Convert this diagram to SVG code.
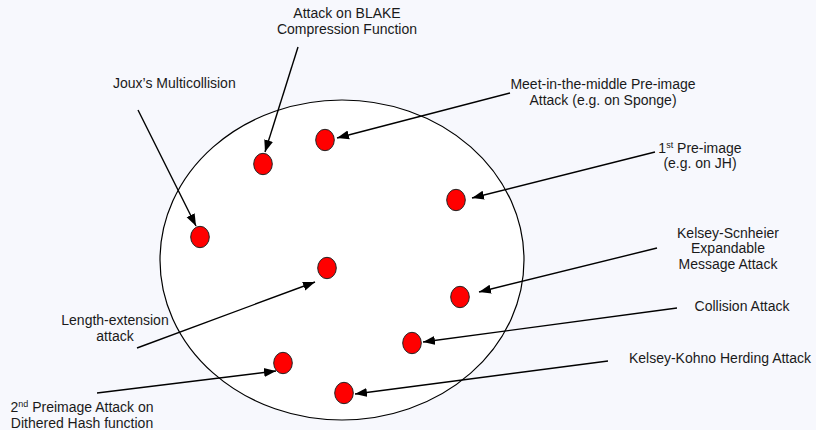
<svg xmlns="http://www.w3.org/2000/svg" width="816" height="430" viewBox="0 0 816 430">
<defs>
<marker id="ah" markerUnits="userSpaceOnUse" markerWidth="14" markerHeight="10" refX="12" refY="5" orient="auto">
<path d="M0,0.5 L12,5 L0,9.5 Z" fill="#000"/>
</marker>
<style>
text{font-family:"Liberation Sans",Arial,sans-serif;font-size:14px;fill:#1a1a1a}
.m{text-anchor:middle}
.dot{fill:#ff0000;stroke:#222;stroke-width:1}
.c line{stroke:#000;stroke-width:1.4;marker-end:url(#ah)}
.sup{font-size:9px}
</style>
</defs>
<rect width="816" height="430" fill="#f7f8fd"/>
<ellipse id="region" cx="342" cy="260" rx="182" ry="160" fill="#ffffff" stroke="#000" stroke-width="1.2"/>

<g id="n-blake"><ellipse class="dot" cx="263" cy="164" rx="9.3" ry="10.7"/><text class="m" x="347" y="18">Attack on BLAKE</text><text class="m" x="347" y="34">Compression Function</text></g>
<g id="n-joux"><ellipse class="dot" cx="200" cy="237" rx="9.3" ry="10.7"/><text x="113" y="88">Joux’s Multicollision</text></g>
<g id="n-meet"><ellipse class="dot" cx="325" cy="140" rx="9.3" ry="10.7"/><text class="m" x="603" y="89">Meet-in-the-middle Pre-image</text><text class="m" x="603" y="105">Attack (e.g. on Sponge)</text></g>
<g id="n-first"><ellipse class="dot" cx="456" cy="200" rx="9.3" ry="10.7"/><text class="m" x="700" y="153">1<tspan class="sup" dy="-5">st</tspan><tspan dy="5"> Pre-image</tspan></text><text class="m" x="700" y="168">(e.g. on JH)</text></g>
<g id="n-kelsey-s"><ellipse class="dot" cx="460" cy="297" rx="9.3" ry="10.7"/><text class="m" x="728" y="238">Kelsey-Scnheier</text><text class="m" x="728" y="253">Expandable</text><text class="m" x="728" y="269">Message Attack</text></g>
<g id="n-length"><ellipse class="dot" cx="327" cy="268" rx="9.3" ry="10.7"/><text class="m" x="115" y="325">Length-extension</text><text class="m" x="115" y="341">attack</text></g>
<g id="n-collision"><ellipse class="dot" cx="412" cy="343" rx="9.3" ry="10.7"/><text class="m" x="742" y="311">Collision Attack</text></g>
<g id="n-second"><ellipse class="dot" cx="283" cy="363" rx="9.3" ry="10.7"/><text class="m" x="82" y="412">2<tspan class="sup" dy="-5">nd</tspan><tspan dy="5"> Preimage Attack on</tspan></text><text class="m" x="82" y="428">Dithered Hash function</text></g>
<g id="n-herding"><ellipse class="dot" cx="344" cy="393" rx="9.3" ry="10.7"/><text class="m" x="720" y="363">Kelsey-Kohno Herding Attack</text></g>

<g id="connectors" class="c">
<line x1="298" y1="47" x2="265" y2="152"/>
<line x1="138" y1="110" x2="196" y2="226"/>
<line x1="510" y1="93" x2="337" y2="138"/>
<line x1="655" y1="152" x2="472" y2="198"/>
<line x1="657" y1="248" x2="479" y2="292"/>
<line x1="137" y1="348" x2="315" y2="282"/>
<line x1="677" y1="308" x2="423" y2="342"/>
<line x1="97" y1="393" x2="276" y2="371"/>
<line x1="608" y1="361" x2="355" y2="394"/>
</g>
</svg>
